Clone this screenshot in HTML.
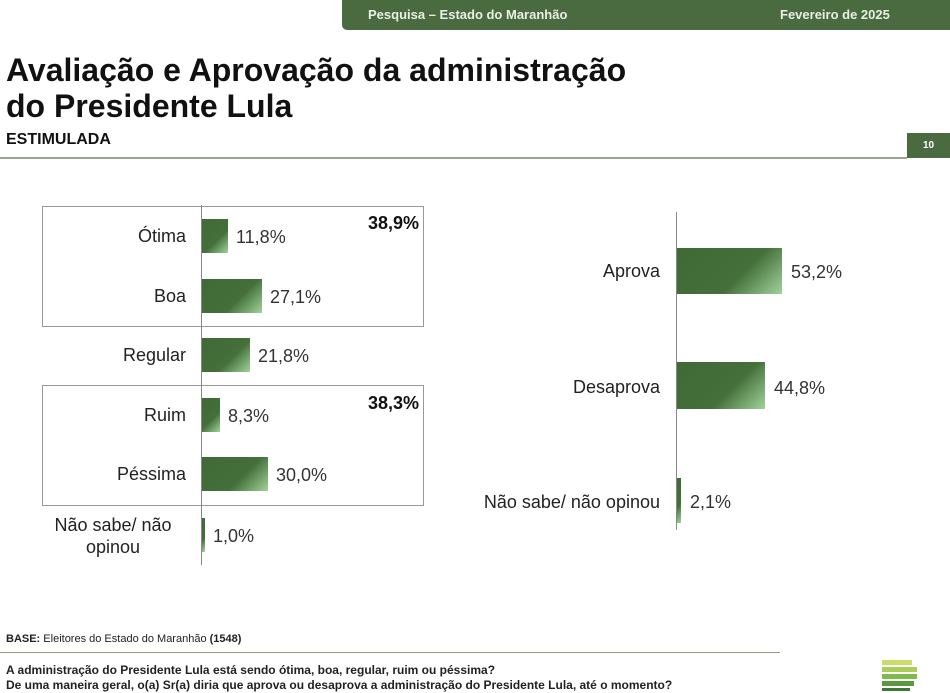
<!DOCTYPE html><html><head><meta charset="utf-8"><style>
body{margin:0;width:950px;height:691px;background:#fff;position:relative;overflow:hidden;font-family:"Liberation Sans",sans-serif;color:#111}
.a{position:absolute}
.bar{position:absolute;background:linear-gradient(135deg,#3f6a35 0%,#456f3a 60%,#9fd49a 100%)}
.lb{position:absolute;font-size:18px;text-align:right;color:#222}
.v{position:absolute;font-size:18px;color:#333}
</style></head><body>
<div class="a" style="left:342px;top:0;width:620px;height:30px;background:#4a6b3f;border-radius:0 0 0 5px"></div>
<div class="a" style="left:368px;top:7px;font-size:13px;font-weight:bold;color:#e8efe4">Pesquisa – Estado do Maranhão</div>
<div class="a" style="left:780px;top:7px;font-size:13px;font-weight:bold;color:#e8efe4">Fevereiro de 2025</div>
<div class="a" style="left:6px;top:52px;font-size:32px;font-weight:bold;line-height:36px">Avaliação e Aprovação da administração<br>do Presidente Lula</div>
<div class="a" style="left:6px;top:131px;font-size:16px;font-weight:bold">ESTIMULADA</div>
<div class="a" style="left:0;top:157px;width:907px;height:2px;background:#9aa58e"></div>
<div class="a" style="left:907px;top:133px;width:43px;height:25px;background:#4a6b3f;color:#fff;font-size:10px;font-weight:bold;text-align:center;line-height:25px">10</div>

<div class="a" style="left:42px;top:206px;width:380px;height:119px;border:1px solid #999"></div>
<div class="a" style="left:42px;top:385px;width:380px;height:119px;border:1px solid #999"></div>
<div class="a" style="left:201px;top:205px;width:1px;height:360px;background:#888"></div>
<div class="a" style="left:368px;top:213px;font-size:18px;font-weight:bold">38,9%</div>
<div class="a" style="left:368px;top:393px;font-size:18px;font-weight:bold">38,3%</div>

<div class="lb" style="left:40px;width:146px;top:226px">Ótima</div><div class="bar" style="left:202px;top:219px;width:26px;height:34px"></div><div class="v" style="left:236px;top:227px">11,8%</div>
<div class="lb" style="left:40px;width:146px;top:286px">Boa</div><div class="bar" style="left:202px;top:279px;width:60px;height:34px"></div><div class="v" style="left:270px;top:287px">27,1%</div>
<div class="lb" style="left:40px;width:146px;top:345px">Regular</div><div class="bar" style="left:202px;top:338px;width:48px;height:34px"></div><div class="v" style="left:258px;top:346px">21,8%</div>
<div class="lb" style="left:40px;width:146px;top:405px">Ruim</div><div class="bar" style="left:202px;top:398px;width:18px;height:34px"></div><div class="v" style="left:228px;top:406px">8,3%</div>
<div class="lb" style="left:40px;width:146px;top:464px">Péssima</div><div class="bar" style="left:202px;top:457px;width:66px;height:34px"></div><div class="v" style="left:276px;top:465px">30,0%</div>
<div class="lb" style="left:40px;width:146px;top:514px;text-align:center;line-height:22px">Não sabe/ não<br>opinou</div><div class="bar" style="left:202px;top:518px;width:3px;height:34px"></div><div class="v" style="left:213px;top:526px">1,0%</div>

<div class="a" style="left:676px;top:212px;width:1px;height:318px;background:#888"></div>
<div class="lb" style="left:420px;width:240px;top:261px">Aprova</div><div class="bar" style="left:677px;top:248px;width:105px;height:46px"></div><div class="v" style="left:791px;top:262px">53,2%</div>
<div class="lb" style="left:420px;width:240px;top:377px">Desaprova</div><div class="bar" style="left:677px;top:362px;width:88px;height:47px"></div><div class="v" style="left:774px;top:378px">44,8%</div>
<div class="lb" style="left:420px;width:240px;top:492px">Não sabe/ não opinou</div><div class="bar" style="left:677px;top:478px;width:4px;height:45px"></div><div class="v" style="left:690px;top:492px">2,1%</div>

<div class="a" style="left:6px;top:633px;font-size:11px;color:#222"><b>BASE:</b> Eleitores do Estado do Maranhão <b>(1548)</b></div>
<div class="a" style="left:0;top:652px;width:780px;height:1px;background:#8fa082"></div>
<div class="a" style="left:6px;top:663px;font-size:12px;font-weight:bold;line-height:15px;color:#222">A administração do Presidente Lula está sendo ótima, boa, regular, ruim ou péssima?<br>De uma maneira geral, o(a) Sr(a) diria que aprova ou desaprova a administração do Presidente Lula, até o momento?</div>
<div class="a" style="left:882px;top:660px;width:30px;height:5px;background:#c9dd6a"></div>
<div class="a" style="left:882px;top:667px;width:35px;height:5px;background:#a9cf5a"></div>
<div class="a" style="left:882px;top:674px;width:35px;height:5px;background:#7fbb4a"></div>
<div class="a" style="left:882px;top:681px;width:32px;height:5px;background:#5a9a3e"></div>
<div class="a" style="left:882px;top:688px;width:28px;height:3px;background:#3f7a35"></div>
</body></html>
